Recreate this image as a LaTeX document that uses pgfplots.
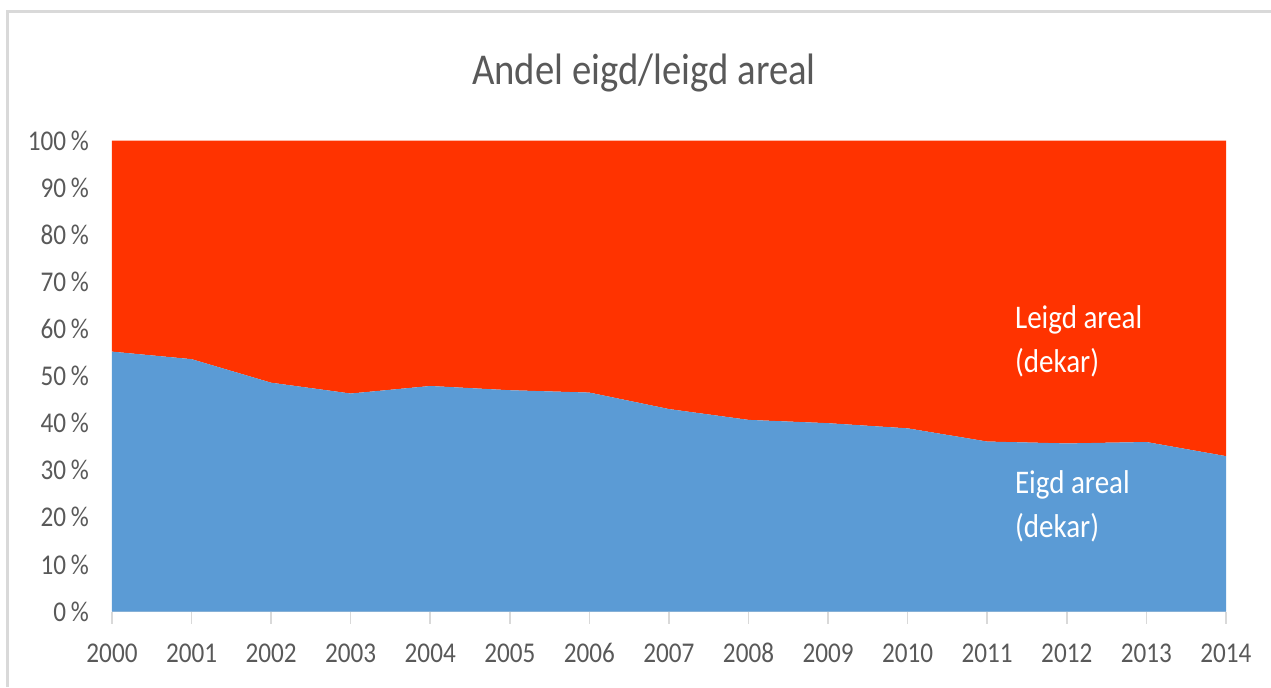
\documentclass[border=0pt]{standalone}
\usepackage{fontspec}
\setmainfont{Carlito}[FakeStretch=0.88]
\usepackage{pgfplots}
\pgfplotsset{compat=1.18}
\definecolor{eigd}{HTML}{5B9BD5}
\definecolor{leigd}{HTML}{FF3300}
\definecolor{txtgray}{HTML}{595959}
\definecolor{framegray}{HTML}{D9D9D9}

\begin{document}
\begin{tikzpicture}
\useasboundingbox (0,0) rectangle (635.5pt,-343.5pt);
\draw[framegray, line width=1.5pt] (3.75pt,-343.5pt) -- (3.75pt,-5.75pt) -- (635.5pt,-5.75pt);
\node[anchor=base, text=txtgray, font=\fontsize{22}{26}\selectfont] at (322pt,-42pt) {Andel eigd/leigd areal};
\begin{axis}[
  at={(56pt,-305.75pt)}, anchor=south west,
  scale only axis, width=557pt, height=235.4pt,
  xmin=2000, xmax=2014, ymin=0, ymax=100,
  stack plots=y,
  axis x line*=bottom, axis y line*=left,
  x axis line style={framegray, -}, y axis line style={draw=none},
  xtick={2000,...,2014}, ytick={0,10,...,100},
  xticklabel style={/pgf/number format/1000 sep={}, anchor=base, yshift=-19.25pt},
  yticklabel style={anchor=east, xshift=-2pt},
  tick align=outside, major tick length=6pt,
  xtick style={framegray, line width=0.75pt},
  ytick style={draw=none},
  yticklabel={\pgfmathprintnumber{\tick}\,\%},
  /pgf/number format/assume math mode=true,
  tick label style={font=\fontsize{14.3}{17}\selectfont, text=txtgray},
]
% Eigd areal (dekar), share in %
\addplot[fill=eigd, draw=none] coordinates {
  (2000,55.2) (2001,53.6) (2002,48.6) (2003,46.3) (2004,47.9)
  (2005,47.0) (2006,46.5) (2007,43.0) (2008,40.7) (2009,40.0)
  (2010,38.9) (2011,36.1) (2012,35.7) (2013,36.0) (2014,33.0)
} \closedcycle;
% Leigd areal (dekar), share in %
\addplot[fill=leigd, draw=none] coordinates {
  (2000,44.8) (2001,46.4) (2002,51.4) (2003,53.7) (2004,52.1)
  (2005,53.0) (2006,53.5) (2007,57.0) (2008,59.3) (2009,60.0)
  (2010,61.1) (2011,63.9) (2012,64.3) (2013,64.0) (2014,67.0)
} \closedcycle;
\end{axis}
\begin{scope}[font=\fontsize{16.5}{20}\selectfont, text=white]
\node[anchor=base west] at (504pt,-164pt) {Leigd areal};
\node[anchor=base west] at (504pt,-186pt) {(dekar)};
\node[anchor=base west] at (504pt,-246.5pt) {Eigd areal};
\node[anchor=base west] at (504pt,-268.5pt) {(dekar)};
\end{scope}
\end{tikzpicture}
\end{document}
